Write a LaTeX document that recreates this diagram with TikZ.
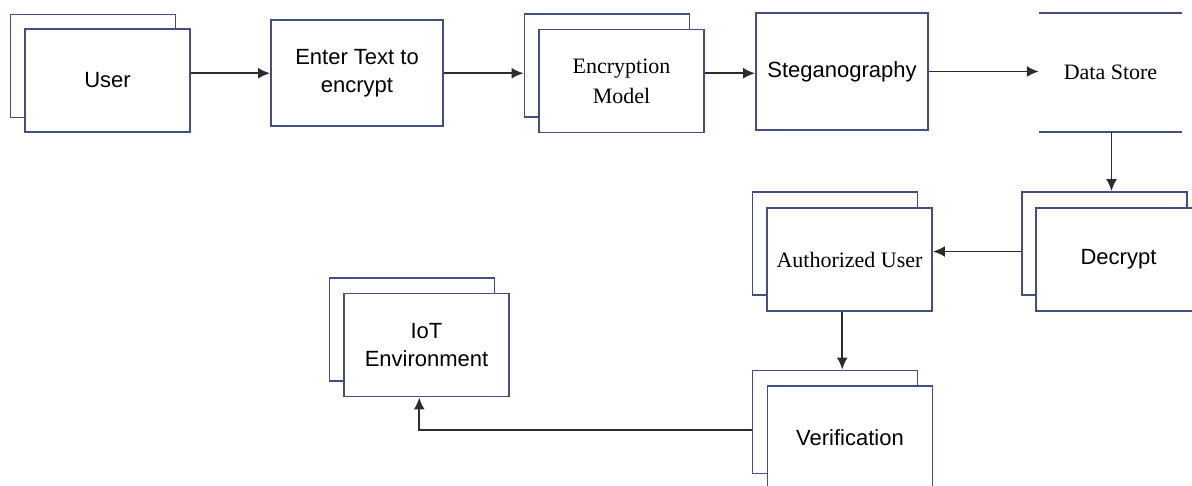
\documentclass[tikz,border=0pt]{standalone}
\usepackage{fontspec}
\usetikzlibrary{calc,arrows.meta}

\newfontfamily\arialf{Liberation Sans}
\newfontfamily\timesf{Liberation Serif}

\definecolor{boxline}{RGB}{68,78,128}
\definecolor{arrowline}{RGB}{45,45,45}

\begin{document}
\begin{tikzpicture}[
	x=1pt,y=-1pt,
	box/.style={rectangle,draw=boxline,fill=white,line width=1.9pt,minimum width=165pt,minimum height=103pt,inner sep=2pt,align=center},
	sans/.style={font=\arialf\fontsize{22}{28}\selectfont},
	serif/.style={font=\timesf\fontsize{22}{30}\selectfont},
	flow/.style={-{Latex[length=12pt,width=11pt]},draw=arrowline,line width=1.8pt}
]

	\useasboundingbox (0,0) rectangle (1192,486);
	\clip (0,0) rectangle (1192,486);

	% top row
	\node[box] (userB) at (93,66) {};
	\node[box,sans] (user) at (107.5,80.5) {User};
	\node[box,sans,minimum width=172pt,minimum height=106pt] (enter) at (357,73) {Enter Text to\\encrypt};
	\node[box] (encB) at (607,65.5) {};
	\node[box,serif] (enc) at (621.5,81) {Encryption\\Model};
	\node[box,sans,minimum width=172pt,minimum height=117pt] (stego) at (842,71.5) {Steganography};
	\node[serif,minimum width=143pt,minimum height=119pt] (store) at (1110.5,72.5) {Data Store};
	\draw[boxline,line width=1.9pt] (store.north west) -- (store.north east) (store.south west) -- (store.south east);

	% lower part
	\node[box] (decB) at (1104.5,243.5) {};
	\node[box,sans] (dec) at (1118.5,259.5) {Decrypt};
	\node[box] (authB) at (835,243.5) {};
	\node[box,serif] (auth) at (849.5,259.5) {Authorized User};
	\node[box] (verB) at (835,422) {};
	\node[box,sans] (ver) at (850,437.5) {Verification};
	\node[box] (iotB) at (412,329.5) {};
	\node[box,sans] (iot) at (426.5,345) {IoT\\Environment};

	% arrows meet the stacked boxes half way between back and front
	\coordinate (userM) at ($(userB)!0.5!(user)$);
	\coordinate (encM) at ($(encB)!0.5!(enc)$);
	\coordinate (decM) at ($(decB)!0.5!(dec)$);
	\coordinate (authM) at ($(authB)!0.5!(auth)$);
	\coordinate (verM) at ($(verB)!0.5!(ver)$);
	\coordinate (iotM) at ($(iotB)!0.5!(iot)$);

	\draw[flow] (user.east |- userM) -- (enter.west |- userM);
	\draw[flow] (enter.east |- encM) -- (encB.west |- encM);
	\draw[flow] (enc.east |- encM) -- (stego.west |- encM);
	\draw[flow] (stego.east) -- (store.west |- stego.east);
	\draw[flow] (store.south -| decM) -- (decB.north -| decM);
	\draw[flow] (decB.west |- decM) -- (auth.east |- decM);
	\draw[flow] (auth.south -| authM) -- (verB.north -| authM);
	\draw[flow] (verB.west |- verM) -| (iot.south -| iotM);

\end{tikzpicture}
\end{document}
